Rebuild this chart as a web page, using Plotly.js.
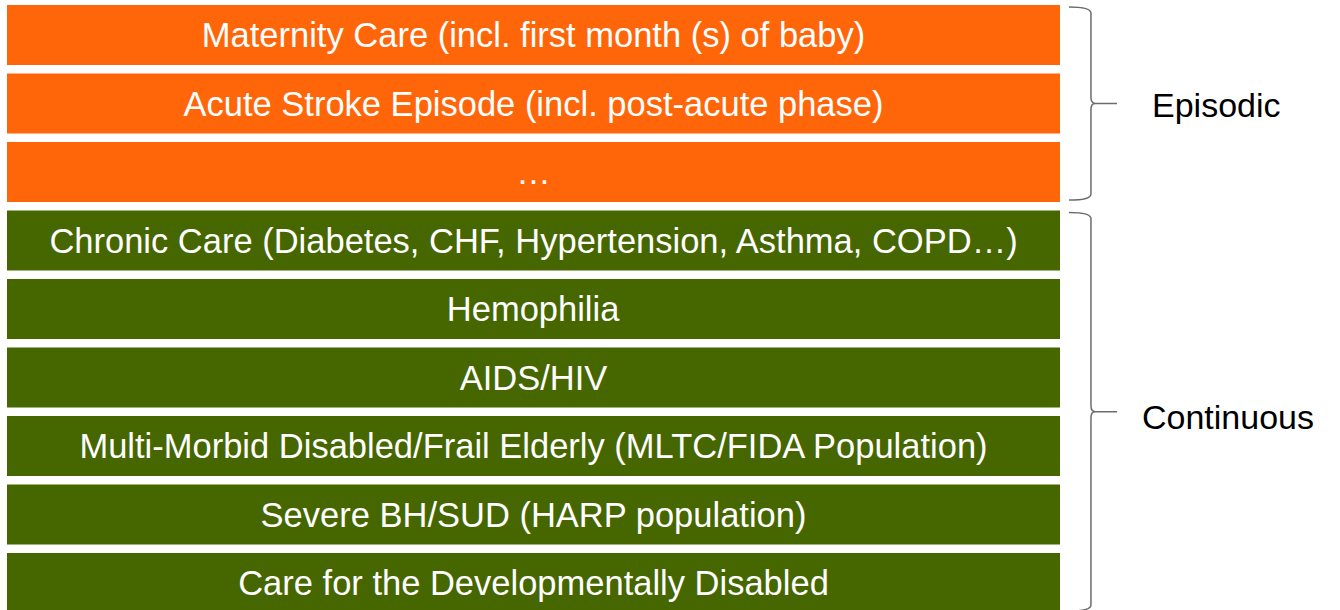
<!DOCTYPE html>
<html>
<head>
<meta charset="utf-8">
<script src="https://cdn.plot.ly/plotly-3.0.1.min.js"></script>
<style>html,body{margin:0;padding:0;background:#fff;}#chart{width:1340px;height:610px;}</style>
</head>
<body>
<div id="chart"></div>
<script>
// ---- data ----
const categories = [
  "Maternity Care (incl. first month (s) of baby)",
  "Acute Stroke Episode (incl. post-acute phase)",
  "…",
  "Chronic Care (Diabetes, CHF, Hypertension, Asthma, COPD…)",
  "Hemophilia",
  "AIDS/HIV",
  "Multi-Morbid Disabled/Frail Elderly (MLTC/FIDA Population)",
  "Severe BH/SUD (HARP population)",
  "Care for the Developmentally Disabled"
];
const values = [1, 1, 1, 1, 1, 1, 1, 1, 1];
const groups = ["Episodic", "Episodic", "Episodic", "Continuous", "Continuous", "Continuous", "Continuous", "Continuous", "Continuous"];
const groupNames = ["Episodic", "Continuous"];

// ---- styles ----
const groupColors = { "Episodic": "#FF660A", "Continuous": "#466600" };
const labelOffsetX = { "Episodic": 1.1485, "Continuous": 1.1595 };
const labelOffsetY = { "Episodic": 0.02, "Continuous": 0.08 };
const FONT = "'Liberation Sans', Arial, sans-serif";

const trace = {
  type: 'bar',
  orientation: 'h',
  y: categories,
  x: values,
  text: categories,
  textposition: 'inside',
  insidetextanchor: 'middle',
  textangle: 0,
  constraintext: 'none',
  textfont: { family: FONT, size: 34.5, color: '#ffffff' },
  marker: { color: groups.map(g => groupColors[g]), line: { width: 0 } },
  hoverinfo: 'skip',
  width: 0.876
};

// bracket shapes & labels computed from group extents
const shapes = [];
const annotations = [];
const xStart = 1.0085, xVert = 1.0294, xTip = 1.0541;
const r = 0.09, pad = 0.41;
groupNames.forEach(g => {
  const idx = groups.map((v, i) => v === g ? i : -1).filter(i => i >= 0);
  const top = idx[0] - pad;
  const bot = idx[idx.length - 1] + pad;
  const mid = (idx[0] + idx[idx.length - 1]) / 2;
  const path = `M ${xStart},${top} Q ${xVert},${top} ${xVert},${top + r} ` +
    `L ${xVert},${mid - r} Q ${xVert},${mid} ${xVert + 0.004},${mid} L ${xTip},${mid} ` +
    `M ${xVert + 0.004},${mid} Q ${xVert},${mid} ${xVert},${mid + r} ` +
    `L ${xVert},${bot - r} Q ${xVert},${bot} ${xStart},${bot}`;
  shapes.push({
    type: 'path', xref: 'paper', yref: 'y', path: path,
    line: { color: '#6b6b6b', width: 1.5 }, layer: 'above'
  });
  annotations.push({
    xref: 'paper', yref: 'y', x: labelOffsetX[g], y: mid + labelOffsetY[g],
    text: g, showarrow: false, xanchor: 'center', yanchor: 'middle',
    font: { family: FONT, size: 34, color: '#000000' }
  });
});

const layout = {
  width: 1340, height: 610,
  margin: { l: 7, r: 280, t: 0, b: 0, pad: 0 },
  paper_bgcolor: '#ffffff', plot_bgcolor: '#ffffff',
  showlegend: false,
  xaxis: { range: [0, 1], visible: false, fixedrange: true },
  yaxis: { type: 'category', categoryorder: 'array', categoryarray: categories,
           range: [8.394, -0.511], visible: false, fixedrange: true },
  shapes: shapes,
  annotations: annotations
};

Plotly.newPlot('chart', [trace], layout, { displayModeBar: false, staticPlot: true });
</script>
</body>
</html>
